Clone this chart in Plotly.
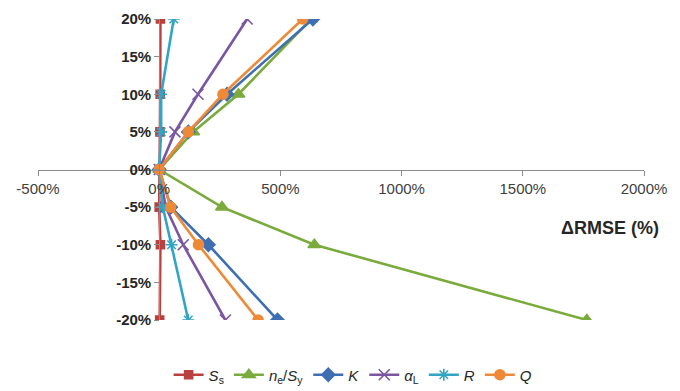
import plotly.graph_objects as go

# y levels (parameter perturbation, %)
y_levels = [-20, -10, -5, 0, 5, 10, 20]

# ΔRMSE (%) for each series, in order of y_levels
Ss = [2, 5, 0, 0, 3, 4, 5]
ne_Sy = [1764, 640, 259, 0, 140, 327, 627]
K = [488, 203, 48, 0, 120, 280, 634]
alpha_L = [273, 99, 27, 0, 65, 160, 363]
R = [120, 51, 15, 0, 8, 8, 60]
Q = [408, 162, 47, 0, 120, 263, 592]

x_ticks = [-500, 0, 500, 1000, 1500, 2000]
x_tick_text = ["-500%", "0%", "500%", "1000%", "1500%", "2000%"]
y_ticks = [-20, -15, -10, -5, 0, 5, 10, 15, 20]
y_tick_text = ["-20%", "-15%", "-10%", "-5%", "0%", "5%", "10%", "15%", "20%"]

series = [
    ("<i>S</i><sub>s</sub>", Ss, "#B8403E", "square", 8),
    ("<i>n</i><sub>e</sub>/<i>S</i><sub>y</sub>", ne_Sy, "#7AAB3C", "triangle-up", 11),
    ("<i>K</i>", K, "#3D6FB2", "diamond", 10),
    ("<i>α</i><sub>L</sub>", alpha_L, "#7A56A2", "x-thin-open", 11),
    ("<i>R</i>", R, "#33A5C4", "asterisk-open", 10),
    ("<i>Q</i>", Q, "#EE8A37", "circle", 10),
]

fig = go.Figure()
for name, vals, color, sym, size in series:
    fig.add_trace(go.Scatter(
        x=vals, y=y_levels, mode="lines+markers", name=name,
        line=dict(color=color, width=2.6),
        marker=dict(symbol=sym, size=size, color=color,
                    line=dict(color=color, width=1.6)),
    ))

fig.update_layout(
    template="none",
    width=680, height=391,
    margin=dict(l=38, r=36, t=19, b=71),
    paper_bgcolor="white", plot_bgcolor="white",
    font=dict(family="Liberation Sans, Arial, sans-serif", size=14, color="#404040"),
    showlegend=True,
    legend=dict(orientation="h", x=0.52, xanchor="center",
                yref="container", y=16 / 391, yanchor="middle",
                font=dict(size=15, color="#262626"), tracegroupgap=0,
                itemwidth=30, traceorder="normal"),
    xaxis=dict(range=[-500, 2000], tickvals=x_ticks, ticktext=x_tick_text,
               automargin=False,
               showgrid=False, zeroline=False, showline=True, linecolor="#8C8C8C",
               linewidth=1, ticks="outside", ticklen=5, tickcolor="#8C8C8C",
               anchor="free", position=0.5,
               tickfont=dict(size=15, color="#404040")),
    yaxis=dict(range=[-20, 20], tickvals=y_ticks, ticktext=y_tick_text,
               automargin=False,
               showgrid=False, zeroline=False, showline=True, linecolor="#8C8C8C",
               linewidth=1, ticks="outside", ticklen=5, tickcolor="#8C8C8C",
               anchor="free", position=0.2,
               tickfont=dict(size=15, color="#262626", family="Liberation Sans, Arial, sans-serif", weight="bold")),
    annotations=[dict(text="<b>ΔRMSE (%)</b>", xref="paper", yref="paper",
                      x=0.944, y=0.306, xanchor="center", yanchor="middle",
                      showarrow=False,
                      font=dict(size=18, color="#262626"))],
)

fig.write_html("out.html", config={"displayModeBar": False},
               post_script="document.body.style.margin='0px';")
